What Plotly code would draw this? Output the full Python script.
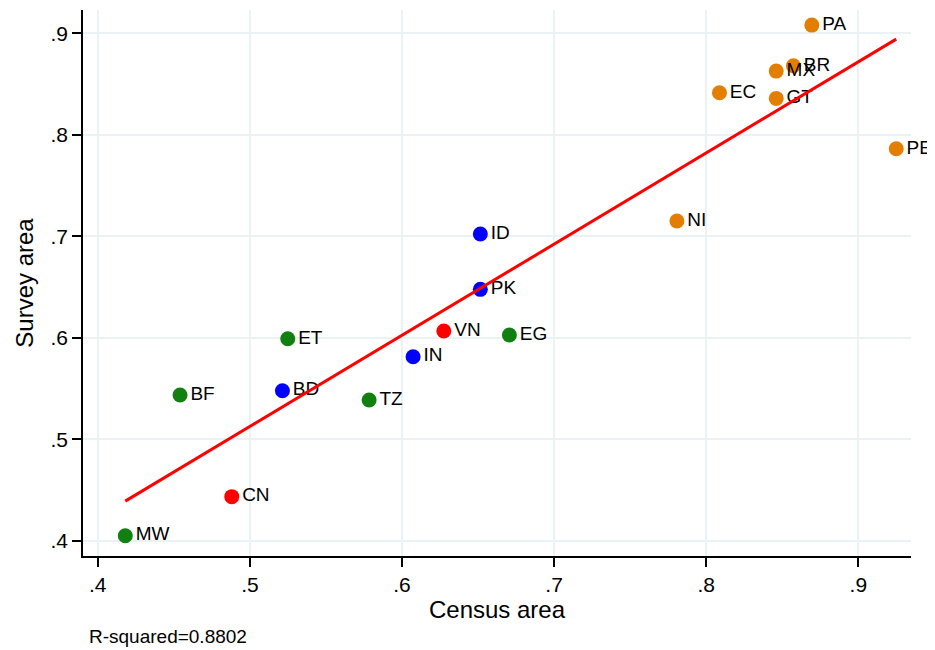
import numpy as np
import plotly.graph_objects as go

codes = ["PA", "BR", "MX", "EC", "GT", "PE", "NI",
         "ID", "PK", "IN", "BD",
         "VN", "CN",
         "EG", "ET", "TZ", "BF", "MW"]
census = [0.8694, 0.8573, 0.846, 0.8087, 0.846, 0.9249, 0.7807,
          0.6515, 0.6515, 0.6073, 0.5214,
          0.6275, 0.4881,
          0.6706, 0.5249, 0.5784, 0.4541, 0.4181]
survey = [0.9081, 0.868, 0.8628, 0.8414, 0.8359, 0.7862, 0.715,
          0.7022, 0.6477, 0.5813, 0.5478,
          0.6066, 0.4434,
          0.6027, 0.599, 0.5386, 0.5435, 0.4049]
group = ["orange"] * 7 + ["blue"] * 4 + ["red"] * 2 + ["green"] * 5
group_colors = {"orange": "#E37E00", "blue": "#0000FF", "red": "#FF0000", "green": "#118011"}

x_ticks = [0.4, 0.5, 0.6, 0.7, 0.8, 0.9]
x_tick_labels = [".4", ".5", ".6", ".7", ".8", ".9"]
y_ticks = [0.4, 0.5, 0.6, 0.7, 0.8, 0.9]
y_tick_labels = [".4", ".5", ".6", ".7", ".8", ".9"]
r_squared_text = "R-squared=0.8802"

FONT = "Liberation Sans, Arial, sans-serif"

x = np.array(census)
y = np.array(survey)
slope, intercept = np.polyfit(x, y, 1)
fx = np.array([x.min(), x.max()])
fy = intercept + slope * fx

fig = go.Figure()
fig.add_trace(go.Scatter(
    x=census, y=survey, mode="markers+text", text=codes,
    textposition="middle right",
    textfont=dict(family=FONT, size=19, color="#000000"),
    marker=dict(size=15, color=[group_colors[g] for g in group], line=dict(width=0)),
    cliponaxis=False, showlegend=False, hoverinfo="skip"))
fig.add_trace(go.Scatter(
    x=fx, y=fy, mode="lines", line=dict(color="#FF0000", width=3),
    showlegend=False, hoverinfo="skip"))

fig.update_layout(
    width=927, height=642,
    margin=dict(l=75, r=24, t=2, b=94, autoexpand=False),
    paper_bgcolor="white", plot_bgcolor="white",
    font=dict(family=FONT, size=21, color="#000000"),
    xaxis=dict(
        range=[0.3903, 0.9346], tickvals=x_ticks, ticktext=x_tick_labels,
        showgrid=True, gridcolor="#EAF2F3", gridwidth=2,
        showline=True, linecolor="#000000", linewidth=1.5,
        ticks="outside", ticklen=9, tickcolor="#000000", tickwidth=1.5,
        tickfont=dict(size=21), zeroline=False, automargin=False,
        title=dict(text="Census area", font=dict(size=24), standoff=2)),
    yaxis=dict(
        range=[0.3849, 0.923], tickvals=y_ticks, ticktext=y_tick_labels,
        showgrid=True, gridcolor="#EAF2F3", gridwidth=2,
        showline=True, linecolor="#000000", linewidth=1.5,
        ticks="outside", ticklen=9, tickcolor="#000000", tickwidth=1.5,
        tickfont=dict(size=21), zeroline=False, automargin=False,
        title=dict(text="Survey area", font=dict(size=24), standoff=10)),
    annotations=[dict(
        text=r_squared_text, xref="paper", yref="paper",
        x=0.0048, y=-0.148, xanchor="left", yanchor="middle",
        showarrow=False, font=dict(family=FONT, size=19, color="#000000"))],
)

fig.write_html("out.html")
